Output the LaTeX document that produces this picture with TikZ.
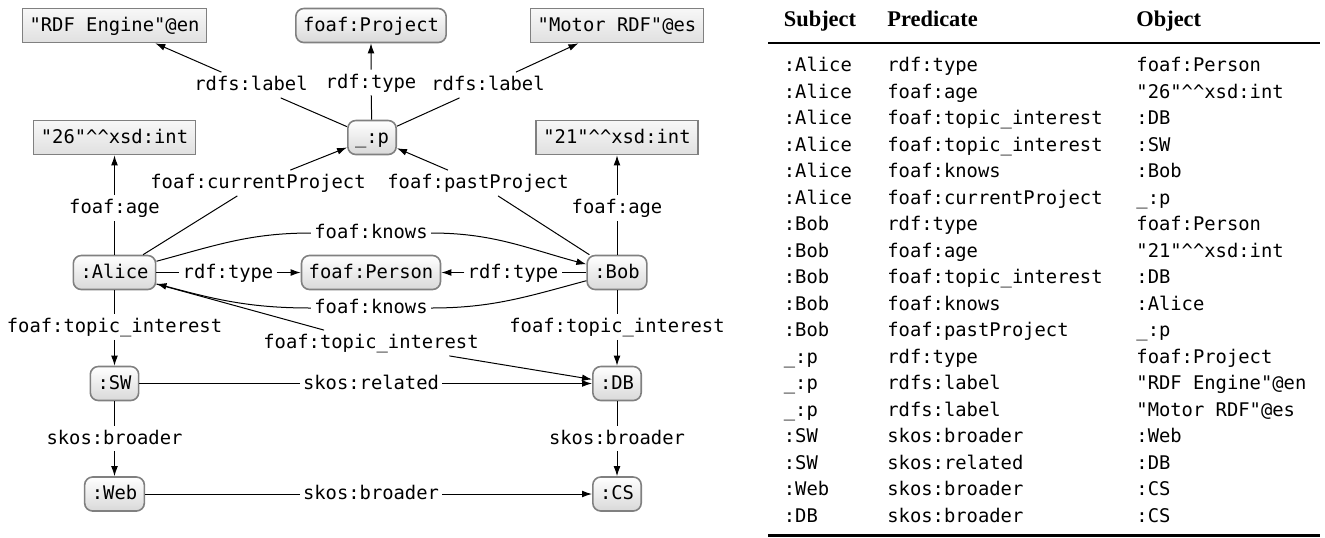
\documentclass[tikz,border=0pt]{standalone}
\usepackage{fontspec}
\setmainfont{Liberation Serif}
\setmonofont{DejaVu Sans Mono}[Scale=0.84]
\usetikzlibrary{arrows.meta}
\begin{document}
\begin{tikzpicture}[x=0.5pt,y=0.5pt,
    every node/.style={font=\fontsize{11.2}{13.3}\selectfont\ttfamily},
    res/.style={draw=gray,line width=0.8pt,rounded corners=4pt,top color=white,bottom color=gray!30,
      inner xsep=3.6pt,inner ysep=0pt,text height=8pt,text depth=2.5pt,minimum height=17pt},
    lit/.style={res,sharp corners,top color=gray!6,bottom color=gray!24},
    lbl/.style={fill=white,inner xsep=1.5pt,inner ysep=1pt,text height=8pt,text depth=2.5pt},
    edge/.style={line width=0.5pt,-{Latex[length=5pt,width=3.4pt]}},
    cell/.style={anchor=base west,inner sep=0pt},
    head/.style={cell,font=\fontsize{11.2}{13.3}\selectfont\rmfamily\bfseries}]
  \useasboundingbox (0,0) rectangle (1325,-537);
  \node [lit] (en) at (114.5,-25.5) {"RDF Engine"@en};
  \node [res] (proj) at (371,-25.5) {foaf:Project};
  \node [lit] (es) at (617,-25.5) {"Motor RDF"@es};
  \node [res] (p) at (372,-137.5) {\_:p};
  \node [lit] (age26) at (114.5,-137.5) {"26"\textasciicircum\textasciicircum xsd:int};
  \node [lit] (age21) at (617,-137.5) {"21"\textasciicircum\textasciicircum xsd:int};
  \node [res] (alice) at (114.5,-272.5) {:Alice};
  \node [res] (person) at (371,-272.5) {foaf:Person};
  \node [res] (bob) at (617,-272.5) {:Bob};
  \node [res] (sw) at (114.5,-383.5) {:SW};
  \node [res] (db) at (617,-383.5) {:DB};
  \node [res] (web) at (114.5,-494) {:Web};
  \node [res] (cs) at (617,-494) {:CS};
  \node [lbl] (lEn) at (251,-85) {rdfs:label};
  \node [lbl] (lType) at (371,-82.5) {rdf:type};
  \node [lbl] (lEs) at (488,-85) {rdfs:label};
  \node [lbl] (lAge1) at (114.5,-208) {foaf:age};
  \node [lbl] (lAge2) at (617,-208) {foaf:age};
  \node [lbl] (lCur) at (258,-183) {foaf:currentProject};
  \node [lbl] (lPast) at (478,-183) {foaf:pastProject};
  \node [lbl] (lKn1) at (371,-233) {foaf:knows};
  \node [lbl] (lKn2) at (371,-308) {foaf:knows};
  \node [lbl] (lRt1) at (228,-272.5) {rdf:type};
  \node [lbl] (lRt2) at (513,-272.5) {rdf:type};
  \node [lbl] (lTi1) at (114.5,-327) {foaf:topic\_interest};
  \node [lbl] (lTi2) at (371,-343) {foaf:topic\_interest};
  \node [lbl] (lTi3) at (617,-327) {foaf:topic\_interest};
  \node [lbl] (lRel) at (371,-383.5) {skos:related};
  \node [lbl] (lBr1) at (114.5,-438.5) {skos:broader};
  \node [lbl] (lBr2) at (617,-438.5) {skos:broader};
  \node [lbl] (lBr3) at (371,-494) {skos:broader};
  \draw [edge] (p) -- (lEn) -- (en);
  \draw [edge] (p) -- (lType) -- (proj);
  \draw [edge] (p) -- (lEs) -- (es);
  \draw [edge] (alice) -- (lAge1) -- (age26);
  \draw [edge] (bob) -- (lAge2) -- (age21);
  \draw [edge] (alice) -- (lCur) -- (p);
  \draw [edge] (bob) -- (lPast) -- (p);
  \draw [edge] (alice) to [out=15,in=180] (lKn1) to [out=0,in=165] (bob);
  \draw [edge] (bob) to [out=195,in=0] (lKn2) to [out=180,in=-15] (alice);
  \draw [edge] (alice) -- (lRt1) -- (person);
  \draw [edge] (bob) -- (lRt2) -- (person);
  \draw [edge] (alice) -- (lTi1) -- (sw);
  \draw [edge] (alice) -- (lTi2) -- (db);
  \draw [edge] (bob) -- (lTi3) -- (db);
  \draw [edge] (sw) -- (lRel) -- (db);
  \draw [edge] (sw) -- (lBr1) -- (web);
  \draw [edge] (db) -- (lBr2) -- (cs);
  \draw [edge] (web) -- (lBr3) -- (cs);
  \node [head] (hSubj) at (783.5,-26.5) {Subject};
  \node [head] (hPred) at (887,-26.5) {Predicate};
  \node [head] (hObj) at (1136,-26.5) {Object};
  \draw [line width=0.8pt] (768,-42.7) -- (1320,-42.7);
  \foreach \subj/\pred/\obj [count=\i] in {
      :Alice/rdf:type/foaf:Person,
      :Alice/foaf:age/"26"\textasciicircum\textasciicircum xsd:int,
      :Alice/foaf:topic\_interest/:DB,
      :Alice/foaf:topic\_interest/:SW,
      :Alice/foaf:knows/:Bob,
      :Alice/foaf:currentProject/\_:p,
      :Bob/rdf:type/foaf:Person,
      :Bob/foaf:age/"21"\textasciicircum\textasciicircum xsd:int,
      :Bob/foaf:topic\_interest/:DB,
      :Bob/foaf:knows/:Alice,
      :Bob/foaf:pastProject/\_:p,
      \_:p/rdf:type/foaf:Project,
      \_:p/rdfs:label/"RDF Engine"@en,
      \_:p/rdfs:label/"Motor RDF"@es,
      :SW/skos:broader/:Web,
      :SW/skos:related/:DB,
      :Web/skos:broader/:CS,
      :DB/skos:broader/:CS} {
    \node [cell] (s\i) at (783.5,-45-26.5*\i) {\subj};
    \node [cell] (p\i) at (887,-45-26.5*\i) {\pred};
    \node [cell] (o\i) at (1136,-45-26.5*\i) {\obj};
  }
  \draw [line width=1.2pt] (768,-535.5) -- (1320,-535.5);
\end{tikzpicture}
\end{document}
